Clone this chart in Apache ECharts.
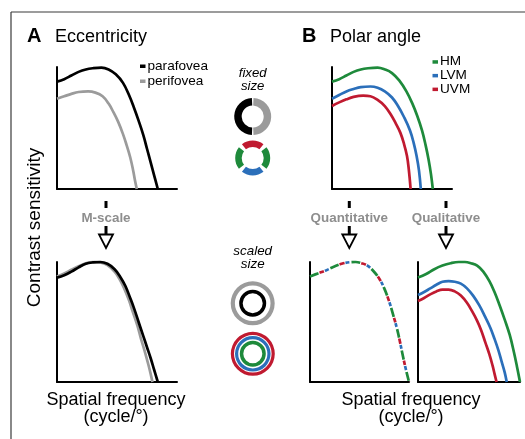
<!DOCTYPE html>
<html>
<head>
<meta charset="utf-8">
<script src="https://cdn.jsdelivr.net/npm/echarts@6/dist/echarts.min.js"></script>
<style>html,body{margin:0;padding:0;background:#fff;}#c{width:525px;height:439px;}</style>
</head>
<body>
<div id="c"></div>
<script>
// ---- data (normalized: x = spatial frequency 0..100, y = contrast sensitivity 0..100) ----
var tlPara = [[0,88],[6,90],[12,93],[18,96],[24,98],[30,99],[37,99.5],[43,98],[49,94],[55,87],[60,77],[64,67],[68,56],[72,44],[75,33],[78,22],[81,11],[84,0]];
var tlPeri = [[0,74],[6,76],[12,78],[18,79.5],[26,80],[32,79],[38,76],[43,70],[47,63],[51,55],[55,45],[58,36],[61,26],[63.5,15],[65,7],[66.5,0]];
var blPara = [[0,87],[6,89],[12,92],[18,95.5],[24,98.5],[30,99.7],[36,100],[42,98.5],[48,94],[52.5,88],[57,80],[61,70],[64,62],[68,50],[72,38],[75,29],[78,20],[81,10],[84,0]];
var blPeri = [[0,88],[6,90.5],[12,93.5],[18,96.5],[24,99],[30,100],[36,99.5],[42,97.5],[48,92],[52,86],[56,78],[60,68],[63,59],[67,47],[70,36],[73,26],[76,15],[78,7],[79.5,0]];
var trHM  = [[0,88],[6,90],[12,93],[18,96],[24,98],[30,99],[38,99.5],[44,98],[50,95],[56,89],[62,80],[67,70],[71,60],[75,48],[78,36],[80.5,24],[82.5,12],[84,0]];
var trLVM = [[0,74],[6,77],[12,80],[18,82],[24,83.5],[32,84],[38,83],[44,80],[50,75],[55,68],[60,59],[65,48],[68,38],[70.5,27],[72.5,15],[74,0]];
var trUVM = [[0,68],[6,71],[12,73.5],[18,75.5],[26,76.5],[32,76],[38,73],[44,68],[49,61],[53,54],[57,46],[60,37],[62.5,27],[64,16],[65.5,0]];
var bmPooled = [[0,88],[8,90.5],[16,93],[24,96],[32,98.5],[40,99.8],[46,100],[52,99],[58,97],[64,92.5],[70,86],[75,78],[80,67],[84,56],[88,44],[91,33],[94,21],[97,10],[100,0]];
var brHM  = [[0,87],[8,90],[16,94],[24,97],[32,99],[40,100],[46,100],[52,99],[58,97],[64,92],[70,84],[75,75],[80,64],[85,52],[90,39],[94,25],[97,13],[100,0]];
var brLVM = [[0,72.5],[6,75],[12,78],[18,81],[24,83.5],[30,84],[36,83.5],[42,82],[48,78],[54,72],[60,64],[66,54],[71,45],[75,36],[79,26],[82,17],[85,8],[87,0]];
var brUVM = [[0,67.5],[6,70],[12,73],[18,75.5],[24,77],[30,77],[36,75.5],[42,72],[48,66],[53,59],[58,51],[62,43],[66,33],[70,23],[73,14],[75,7],[77,0]];

var ringFixedEcc = [1, 1];          // right half perifovea, left half parafovea
var ringFixedPolar = [1, 1, 1, 1];  // top UVM, right HM, bottom LVM, left HM
var ringScaled = [1];

var legendEcc = ['parafovea', 'perifovea'];
var legendPolar = ['HM', 'LVM', 'UVM'];

// ---- styles ----
var BLACK = '#000000', GRAY = '#9b9b9b', GREEN = '#1e8a3b', BLUE = '#2b6fba', RED = '#c01a30';
var FONT = '"Liberation Sans", Arial, Helvetica, sans-serif';

var chart = echarts.init(document.getElementById('c'), null, {renderer: 'canvas'});

var grids = [
  {left: 57, top: 67, width: 120, height: 122},
  {left: 57, top: 262, width: 120, height: 120},
  {left: 332, top: 67, width: 120, height: 122},
  {left: 310, top: 262, width: 99, height: 120},
  {left: 418, top: 262, width: 102, height: 120}
];
function axis(i) {
  return {
    type: 'value', gridIndex: i, min: 0, max: 100,
    axisLine: {show: true, onZero: false, lineStyle: {color: BLACK, width: 2}},
    axisTick: {show: false}, axisLabel: {show: false}, splitLine: {show: false}
  };
}
var xAxes = [], yAxes = [];
for (var i = 0; i < grids.length; i++) { xAxes.push(axis(i)); yAxes.push(axis(i)); }

function line(data, gi, color, extra) {
  var ls = {color: color, width: 2.7};
  if (extra) for (var k in extra) ls[k] = extra[k];
  return {
    type: 'line', xAxisIndex: gi, yAxisIndex: gi, data: data, smooth: 0.4,
    showSymbol: false, symbol: 'none', silent: true, lineStyle: ls, clip: false
  };
}
function ring(center, radius, values, colors, startAngle, pad) {
  return {
    type: 'pie', center: center, radius: radius, startAngle: startAngle, padAngle: pad,
    silent: true, label: {show: false}, labelLine: {show: false},
    itemStyle: {borderWidth: 0},
    data: values.map(function (v, j) { return {value: v, itemStyle: {color: colors[j]}}; })
  };
}

var series = [
  line(tlPeri, 0, GRAY), line(tlPara, 0, BLACK),
  line(blPeri, 1, GRAY), line(blPara, 1, BLACK),
  line(trUVM, 2, RED), line(trLVM, 2, BLUE), line(trHM, 2, GREEN),
  line(bmPooled, 3, GREEN, {type: [9, 13], dashOffset: 0}),
  line(bmPooled, 3, RED, {type: [5, 17], dashOffset: 12}),
  line(bmPooled, 3, BLUE, {type: [4, 18], dashOffset: 6}),
  line(brUVM, 4, RED), line(brLVM, 4, BLUE), line(brHM, 4, GREEN),
  ring([252.7, 116.5], [11, 18.5], ringFixedEcc, [GRAY, BLACK], 90, 5),
  ring([252.7, 158], [11, 17.5], ringFixedPolar, [RED, GREEN, BLUE, GREEN], 135, 14),
  ring([252.7, 303.3], [17.8, 22], ringScaled, [GRAY], 90, 0),
  ring([252.7, 303.3], [10, 13.5], ringScaled, [BLACK], 90, 0),
  ring([252.8, 353.8], [18.8, 22], ringScaled, [RED], 90, 0),
  ring([252.8, 353.8], [14.6, 17.8], ringScaled, [BLUE], 90, 0),
  ring([252.8, 353.8], [9.5, 13], ringScaled, [GREEN], 90, 0)
];

function txt(s, x, y, size, opts) {
  opts = opts || {};
  return {
    type: 'text', x: x, y: y, rotation: opts.rotation || 0, silent: true,
    style: {
      text: s, fill: opts.fill || BLACK,
      font: (opts.style || '') + ' ' + (opts.weight || 'normal') + ' ' + size + 'px ' + FONT,
      align: opts.align || 'left', verticalAlign: opts.va || 'middle'
    }
  };
}
// place text by its baseline (converted to a middle anchor)
function txtB(s, x, base, size, opts) {
  return txt(s, x, base - 0.33 * size, size, opts);
}
function arrow(x) {
  return [
    {type: 'rect', silent: true, shape: {x: x - 1.5, y: 201, width: 3, height: 7}, style: {fill: BLACK}},
    {type: 'rect', silent: true, shape: {x: x - 1.5, y: 226, width: 3, height: 8.5}, style: {fill: BLACK}},
    {type: 'polygon', silent: true, shape: {points: [[x - 7, 234.5], [x + 7, 234.5], [x, 248]]},
     style: {fill: '#ffffff', stroke: BLACK, lineWidth: 1.8}}
  ];
}
function legendItem(label, color, x, y) {
  return [
    {type: 'rect', silent: true, shape: {x: x, y: y - 1.5, width: 5.5, height: 3.5}, style: {fill: color}},
    txt(label, x + 7.5, y, 13.6, {va: 'middle'})
  ];
}

var graphic = [
  {type: 'line', silent: true, shape: {x1: 11, y1: 12, x2: 525, y2: 12}, style: {stroke: '#3a3a3a', lineWidth: 1.2}},
  {type: 'line', silent: true, shape: {x1: 11, y1: 12, x2: 11, y2: 439}, style: {stroke: '#3a3a3a', lineWidth: 1.2}},
  txtB('A', 27, 43, 20, {weight: 'bold'}),
  txtB('Eccentricity', 55, 43, 18),
  txtB('B', 302, 43, 20, {weight: 'bold'}),
  txtB('Polar angle', 330, 43, 18),
  txt('Contrast sensitivity', 35, 227.5, 19, {rotation: Math.PI / 2, align: 'center', va: 'middle'}),
  txt('fixed', 252.7, 73, 13.2, {style: 'italic', align: 'center'}),
  txt('size', 252.7, 86, 13.2, {style: 'italic', align: 'center'}),
  txt('scaled', 252.7, 251, 13.4, {style: 'italic', align: 'center'}),
  txt('size', 252.7, 264, 13.4, {style: 'italic', align: 'center'}),
  txt('M-scale', 106, 218, 13.4, {weight: 'bold', fill: '#8e8e8e', align: 'center'}),
  txt('Quantitative', 349.3, 218, 13.4, {weight: 'bold', fill: '#8e8e8e', align: 'center'}),
  txt('Qualitative', 446, 218, 13.4, {weight: 'bold', fill: '#8e8e8e', align: 'center'}),
  txtB('Spatial frequency', 116, 406, 18, {align: 'center'}),
  txtB('(cycle/°)', 116, 423, 18, {align: 'center'}),
  txtB('Spatial frequency', 411, 406, 18, {align: 'center'}),
  txtB('(cycle/°)', 411, 423, 18, {align: 'center'})
];
graphic = graphic.concat(arrow(106), arrow(349.3), arrow(446));
var eccColors = [BLACK, GRAY];
legendEcc.forEach(function (n, j) { graphic = graphic.concat(legendItem(n, eccColors[j], 140, 66 + j * 15)); });
var polColors = [GREEN, BLUE, RED];
legendPolar.forEach(function (n, j) { graphic = graphic.concat(legendItem(n, polColors[j], 432.5, 61.7 + j * 13.7)); });

chart.setOption({
  animation: false,
  backgroundColor: '#ffffff',
  grid: grids,
  xAxis: xAxes,
  yAxis: yAxes,
  series: series,
  graphic: graphic
});
</script>
</body>
</html>
